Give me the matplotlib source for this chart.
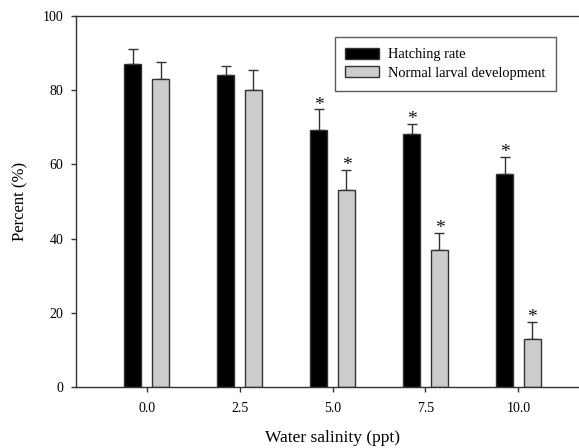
import matplotlib
matplotlib.use("Agg")
import matplotlib.pyplot as plt
from matplotlib.patches import Patch
import numpy as np

salinity = [0.0, 2.5, 5.0, 7.5, 10.0]
tick_labels = ["0.0", "2.5", "5.0", "7.5", "10.0"]
hatching = [87.0, 84.0, 69.3, 68.3, 57.4]
hatching_err = [4.0, 2.6, 5.5, 2.5, 4.5]
normal = [83.0, 80.0, 53.0, 37.0, 13.0]
normal_err = [4.6, 5.5, 5.5, 4.6, 4.6]
hatching_sig = [False, False, True, True, True]
normal_sig = [False, False, True, True, True]

plt.rcParams['font.family'] = ['Liberation Serif', 'DejaVu Serif']

W, H = 579, 448
fig = plt.figure(figsize=(W/100, H/100), dpi=100)
# axes: left spine x=76, top y=16, bottom y=387, extends past right edge
ax = fig.add_axes([76.3/W, 1-387.4/H, (588-76.3)/W, (387.4-15.7)/H])

x = np.array(salinity)
bw = 0.45
off = 0.375
edge = '#333333'
ax.bar(x-off, hatching, bw, color='black', edgecolor=edge, linewidth=1, zorder=2)
ax.bar(x+off, normal, bw, color='#cccccc', edgecolor=edge, linewidth=1, zorder=2)
ax.errorbar(x-off, hatching, yerr=[np.zeros(5), hatching_err], fmt='none',
            ecolor=edge, elinewidth=1, capsize=3.6, capthick=1, zorder=1)
ax.errorbar(x+off, normal, yerr=[np.zeros(5), normal_err], fmt='none',
            ecolor=edge, elinewidth=1, capsize=3.6, capthick=1, zorder=1)

for xi, v, e, s in zip(x-off, hatching, hatching_err, hatching_sig):
    if s:
        ax.annotate('*', xy=(xi, v+e), xytext=(0, -3), textcoords='offset points',
                    ha='center', va='bottom', fontsize=14, color='#111111')
for xi, v, e, s in zip(x+off, normal, normal_err, normal_sig):
    if s:
        ax.annotate('*', xy=(xi, v+e), xytext=(0, -3), textcoords='offset points',
                    ha='center', va='bottom', fontsize=14, color='#111111')

ax.set_xlim(-1.89, 11.87)
ax.set_ylim(0, 100)
ax.set_xticks(x)
ax.set_xticklabels(tick_labels)
ax.set_yticks([0, 20, 40, 60, 80, 100])
ax.tick_params(axis='y', labelsize=10, length=3.3, width=1, color=edge, pad=6)
ax.tick_params(axis='x', labelsize=10, length=3.6, width=1, color=edge, pad=7)
for sp in ['left', 'bottom', 'top']:
    ax.spines[sp].set_color(edge)
    ax.spines[sp].set_linewidth(1)
ax.spines['right'].set_visible(False)

ax.set_ylabel('Percent (%)', fontsize=12, labelpad=10)
ax.set_xlabel('Water salinity (ppt)', fontsize=12.5, labelpad=11)

handles = [Patch(facecolor='black', edgecolor=edge, label='Hatching rate'),
           Patch(facecolor='#cccccc', edgecolor=edge, label='Normal larval development')]
leg = fig.legend(handles=handles, loc='upper left', bbox_to_anchor=(334.5/W, 1-37.3/H),
                 fontsize=10.4, frameon=True, fancybox=False, edgecolor=edge,
                 handlelength=2.36, handleheight=0.73, handletextpad=0.58,
                 borderpad=0.75, labelspacing=0.35, borderaxespad=0)
leg.get_frame().set_linewidth(1)

fig.savefig('out.png', dpi=100)
